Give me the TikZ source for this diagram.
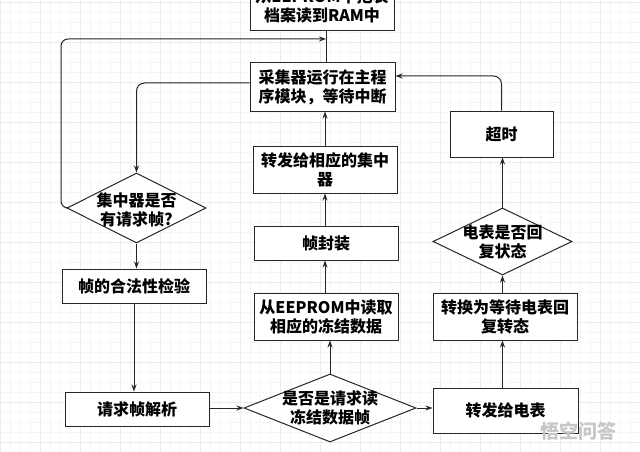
\documentclass[tikz,border=0pt]{standalone}
\usepackage{fontspec}
\setmainfont{Noto Sans CJK SC}
\usetikzlibrary{arrows.meta,shapes.geometric}
\tikzset{
  boxnode/.style={draw=black!85, line width=1pt, fill=white, inner sep=0pt, align=center,
    font=\fontsize{16}{19}\selectfont\bfseries},
  dia/.style={draw=black!85, line width=1pt, fill=white, shape=diamond, inner sep=0pt},
  diatext/.style={align=center, inner sep=0pt, font=\fontsize{16}{19}\selectfont\bfseries},
  conn/.style={draw=black!85, line width=1pt},
  arr/.style={conn, -{Stealth[length=7pt,width=5pt]}},
}
\begin{document}
\begin{tikzpicture}[x=1pt,y=-1pt]
\useasboundingbox (0,0) rectangle (640,452);
\clip (0,0) rectangle (640,452);
\fill[white] (0,0) rectangle (640,452);
% background grid
\foreach \i in {0,10,...,640} \draw[black!4, line width=0.5pt] (\i,0) -- (\i,452);
\foreach \j in {2,12,...,452} \draw[black!4, line width=0.5pt] (0,\j) -- (640,\j);
\foreach \i in {0,40,...,640} \draw[black!8, line width=0.6pt] (\i,0) -- (\i,452);
\foreach \j in {2,42,...,452} \draw[black!8, line width=0.6pt] (0,\j) -- (640,\j);

% boxes
\node[boxnode, minimum width=144pt, minimum height=50pt] (top) at (322,6) {从EEPROM中把表\\档案读到RAM中};
\node[boxnode, minimum width=145pt, minimum height=48pt] (cjq) at (322.5,87) {采集器运行在主程\\序模块，等待中断};
\node[boxnode, minimum width=144pt, minimum height=47pt] (zf) at (325,169.5) {转发给相应的集中\\器};
\node[boxnode, minimum width=144pt, minimum height=34pt] (fz) at (326,243) {帧封装};
\node[boxnode, minimum width=144pt, minimum height=47pt] (ee) at (326,316.5) {从EEPROM中读取\\相应的冻结数据};
\node[boxnode, minimum width=103pt, minimum height=46pt] (cs) at (501.5,134) {超时};
\node[boxnode, minimum width=144pt, minimum height=47pt] (zh) at (505,316.5) {转换为等待电表回\\复转态};
\node[boxnode, minimum width=145pt, minimum height=45pt] (dd) at (505.5,410.5) {转发给电表};
\node[boxnode, minimum width=144pt, minimum height=34pt] (hf) at (134,286) {帧的合法性检验};
\node[boxnode, minimum width=144pt, minimum height=34pt] (jx) at (137,409) {请求帧解析};

% diamonds
\node[dia, minimum width=139pt, minimum height=70pt] (d1) at (136.5,208) {};
\node[diatext] at ([yshift=-2pt]d1.center) {集中器是否\\有请求帧?};
\node[dia, minimum width=172pt, minimum height=68pt] (d2) at (330,408) {};
\node[diatext] at (d2.center) {是否是请求读\\冻结数据帧};
\node[dia, minimum width=139pt, minimum height=67pt] (d3) at (502.5,241.5) {};
\node[diatext] at (d3.center) {电表是否回\\复状态};

% connectors
\coordinate (hit) at (326,39);
\coordinate (loopL) at (61,39);
\draw[conn] (cjq.north -| hit) -- (top.south -| hit);
\draw[arr, rounded corners=7pt] (d1.west) -| (loopL) -- (hit);
\draw[arr, rounded corners=8pt] ([yshift=4pt]cjq.west) -| (d1.north);
\draw[arr, rounded corners=8pt] (cs.north) |- ([yshift=11pt]cjq.east);
\draw[arr] (zf.north) -- (zf.north |- cjq.south);
\draw[arr] (fz.north -| zf) -- (zf.south);
\draw[arr] (ee.north -| zf) -- (fz.south -| zf);
\draw[arr] (d2.north) -- (d2.north |- ee.south);
\draw[arr] (d2.east) -- (d2.east -| dd.west);
\draw[arr] (jx.east |- d2.west) -- (d2.west);
\draw[arr] (d1.south) -- (d1.south |- hf.north);
\draw[arr] (hf.south) -- (hf.south |- jx.north);
\draw[arr] (dd.north -| d3) -- (zh.south -| d3);
\draw[arr] (zh.north -| d3) -- (d3.south);
\draw[arr] (d3.north) -- (d3.north |- cs.south);

% watermark
\node[text=black!22, font=\fontsize{19}{19}\selectfont\bfseries, anchor=west, inner sep=0pt] (wm) at (540,431) {悟空问答};
\end{tikzpicture}
\end{document}
